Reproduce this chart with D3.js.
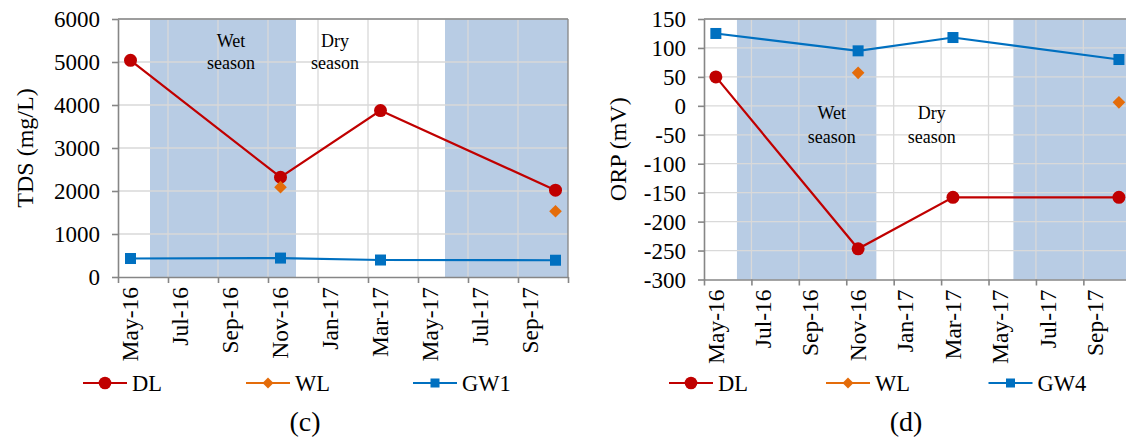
<!DOCTYPE html>
<html>
<head>
<meta charset="utf-8">
<script src="https://cdn.jsdelivr.net/npm/d3@7"></script>
<style>
  html, body { margin: 0; padding: 0; background: #fff; }
  svg { display: block; }
  svg text { font-family: "Liberation Serif", "Times New Roman", serif !important; fill: #000; }
</style>
</head>
<body>
<svg id="chart" width="1126" height="438"></svg>
<script>
// ---------- data ----------
const monthCount = 18;                       // May-16 ... Oct-17
const xTickLabels = ["May-16","Jul-16","Sep-16","Nov-16","Jan-17","Mar-17","May-17","Jul-17","Sep-17"];
const sampleMonth = [0, 6, 10, 17];           // May-16, Nov-16, Mar-17, Oct-17 (month index)

const tdsDL  = [5040, 2320, 3870, 2020];
const tdsWL  = [null, 2090, null, 1530];
const tdsGW1 = [430, 440, 395, 390];
const tdsTicks = [0, 1000, 2000, 3000, 4000, 5000, 6000];

const orpDL  = [50, -247, -158, -158];
const orpWL  = [null, 57, null, 6];
const orpGW4 = [125, 95, 118, 80];
const orpTicks = [-300, -250, -200, -150, -100, -50, 0, 50, 100, 150];

const wetBandsC = [[1.28, 7.12], [13.08, 18]];
const wetBandsD = [[1.39, 7.27], [13.05, 18]];

const seriesNamesC = ["DL", "WL", "GW1"];
const seriesNamesD = ["DL", "WL", "GW4"];

// ---------- styles ----------
const colDL = "#c00000", colWL = "#e46c0a", colGW = "#0070c0";
const bandCol = "#b8cce4", gridCol = "#d9d9d9", axisCol = "#868686";
const FONT = "'Liberation Serif', 'Times New Roman', serif";

const svg = d3.select("#chart");

function txt(sel, size) {
  return sel.style("font-family", FONT).style("font-size", size + "px").style("fill", "#000");
}

function drawPanel(cfg) {
  const g = svg.append("g");
  const x = d3.scaleLinear().domain([0, monthCount]).range([cfg.left, cfg.left + cfg.monthW * monthCount]);
  const y = d3.scaleLinear().domain(cfg.yDomain).range([cfg.bottom, cfg.top]);
  const xr = Math.min(x(monthCount), 1126);

  // wet-season bands
  g.selectAll("rect.band").data(cfg.bands).join("rect")
    .attr("x", d => x(d[0])).attr("y", cfg.top)
    .attr("width", d => x(d[1]) - x(d[0])).attr("height", cfg.bottom - cfg.top)
    .attr("fill", bandCol);

  // gridlines
  const xGridVals = d3.range(2, monthCount, 2);
  g.selectAll("line.vg").data(xGridVals).join("line")
    .attr("x1", d => x(d)).attr("x2", d => x(d))
    .attr("y1", cfg.top).attr("y2", cfg.bottom)
    .attr("stroke", gridCol).attr("stroke-width", 1.3);
  g.selectAll("line.hg").data(cfg.yTicks.slice(1)).join("line")
    .attr("x1", cfg.left).attr("x2", xr)
    .attr("y1", d => y(d)).attr("y2", d => y(d))
    .attr("stroke", gridCol).attr("stroke-width", 1.3);

  // plot border (top / right)
  g.append("line").attr("x1", cfg.left).attr("x2", xr).attr("y1", cfg.top).attr("y2", cfg.top)
    .attr("stroke", axisCol).attr("stroke-width", 1.3);
  if (x(monthCount) <= 1126) {
    g.append("line").attr("x1", x(monthCount)).attr("x2", x(monthCount)).attr("y1", cfg.top).attr("y2", cfg.bottom)
      .attr("stroke", axisCol).attr("stroke-width", 1.3);
  }

  // y axis
  const yAxis = d3.axisLeft(y).tickValues(cfg.yTicks).tickFormat(d => String(d))
    .tickSize(6).tickPadding(12).tickSizeOuter(0);
  const ya = g.append("g").attr("transform", `translate(${cfg.left},0)`).call(yAxis);
  ya.select(".domain").attr("stroke", axisCol).attr("stroke-width", 1.6);
  ya.selectAll(".tick line").attr("stroke", axisCol).attr("stroke-width", 1.6);
  txt(ya.selectAll(".tick text"), 23).attr("dy", "0.33em");

  // x axis ticks (month boundaries every 2 months)
  const xAxis = d3.axisBottom(x).tickValues(d3.range(0, monthCount + 1, 2)).tickSize(6).tickFormat("").tickSizeOuter(0);
  const xa = g.append("g").attr("transform", `translate(0,${cfg.bottom})`).call(xAxis);
  xa.select(".domain").attr("stroke", axisCol).attr("stroke-width", 1.6);
  xa.selectAll(".tick line").attr("stroke", axisCol).attr("stroke-width", 1.6);

  // x labels at month centres
  txt(g.selectAll("text.xl").data(xTickLabels).join("text")
    .attr("transform", (d, i) => `translate(${x(i * 2 + 0.5)},${cfg.bottom + 10}) rotate(-90)`)
    .attr("text-anchor", "end").attr("dy", "0.33em")
    .text(d => d), 23.5);

  // y axis title
  txt(g.append("text")
    .attr("transform", `translate(${cfg.titleX},${(cfg.top + cfg.bottom) / 2}) rotate(-90)`)
    .attr("text-anchor", "middle").attr("dy", "0.33em")
    .text(cfg.title), 24);

  // season annotations
  cfg.notes.forEach(n => {
    txt(g.append("text").attr("x", n.x).attr("y", n.y1).attr("text-anchor", "middle").text(n.t1), 18);
    txt(g.append("text").attr("x", n.x).attr("y", n.y2).attr("text-anchor", "middle").text("season"), 18);
  });

  const pts = arr => arr.map((v, i) => ({ m: sampleMonth[i] + 0.5, v })).filter(d => d.v !== null);
  const line = d3.line().x(d => x(d.m)).y(d => y(d.v));

  // GW line & squares
  const gw = pts(cfg.gw);
  g.append("path").attr("d", line(gw)).attr("fill", "none").attr("stroke", colGW).attr("stroke-width", 2.2);
  g.selectAll("rect.gw").data(gw).join("rect")
    .attr("x", d => x(d.m) - 5.5).attr("y", d => y(d.v) - 5.5).attr("width", 11).attr("height", 11)
    .attr("fill", colGW);

  // DL line & circles
  const dl = pts(cfg.dl);
  g.append("path").attr("d", line(dl)).attr("fill", "none").attr("stroke", colDL).attr("stroke-width", 2.2);
  g.selectAll("circle.dl").data(dl).join("circle")
    .attr("cx", d => x(d.m)).attr("cy", d => y(d.v)).attr("r", 6.5).attr("fill", colDL);

  // WL diamonds
  const wl = pts(cfg.wl);
  const diamond = d3.symbol().type(d3.symbolSquare).size(80);
  g.selectAll("path.wl").data(wl).join("path")
    .attr("d", diamond)
    .attr("transform", d => `translate(${x(d.m)},${y(d.v)}) rotate(45)`)
    .attr("fill", colWL);

  // legend
  const ly = 383;
  const items = [
    { name: cfg.names[0], col: colDL, sym: "circle", x0: cfg.legendX[0] },
    { name: cfg.names[1], col: colWL, sym: "diamond", x0: cfg.legendX[1] },
    { name: cfg.names[2], col: colGW, sym: "square", x0: cfg.legendX[2] }
  ];
  items.forEach(it => {
    g.append("line").attr("x1", it.x0).attr("x2", it.x0 + 44).attr("y1", ly).attr("y2", ly)
      .attr("stroke", it.col).attr("stroke-width", 2.2);
    const cx = it.x0 + 22;
    if (it.sym === "circle") g.append("circle").attr("cx", cx).attr("cy", ly).attr("r", 6.3).attr("fill", it.col);
    else if (it.sym === "square") g.append("rect").attr("x", cx - 4.5).attr("y", ly - 4.5).attr("width", 9).attr("height", 9).attr("fill", it.col);
    else g.append("path").attr("d", d3.symbol().type(d3.symbolSquare).size(60)).attr("transform", `translate(${cx},${ly}) rotate(45)`).attr("fill", it.col);
    txt(g.append("text").attr("x", it.x0 + 49).attr("y", ly).attr("dy", "0.35em").text(it.name), 22.5);
  });

  // caption
  txt(g.append("text").attr("x", cfg.capX).attr("y", 431).attr("text-anchor", "middle").text(cfg.caption), 28);
}

drawPanel({
  left: 118, monthW: 25, top: 19, bottom: 277,
  yDomain: [0, 6000], yTicks: tdsTicks, bands: wetBandsC,
  title: "TDS (mg/L)", titleX: 25.5,
  dl: tdsDL, wl: tdsWL, gw: tdsGW1, names: seriesNamesC,
  notes: [ { x: 231, y1: 46.5, y2: 69, t1: "Wet" }, { x: 335, y1: 46.5, y2: 69, t1: "Dry" } ],
  legendX: [83, 246, 413], capX: 305, caption: "(c)"
});

drawPanel({
  left: 704, monthW: 23.71, top: 19, bottom: 279.5,
  yDomain: [-300, 150], yTicks: orpTicks, bands: wetBandsD,
  title: "ORP (mV)", titleX: 618,
  dl: orpDL, wl: orpWL, gw: orpGW4, names: seriesNamesD,
  notes: [ { x: 831.7, y1: 119.3, y2: 143, t1: "Wet" }, { x: 931.7, y1: 119.3, y2: 143, t1: "Dry" } ],
  legendX: [669, 826, 988.5], capX: 906, caption: "(d)"
});
</script>
</body>
</html>
